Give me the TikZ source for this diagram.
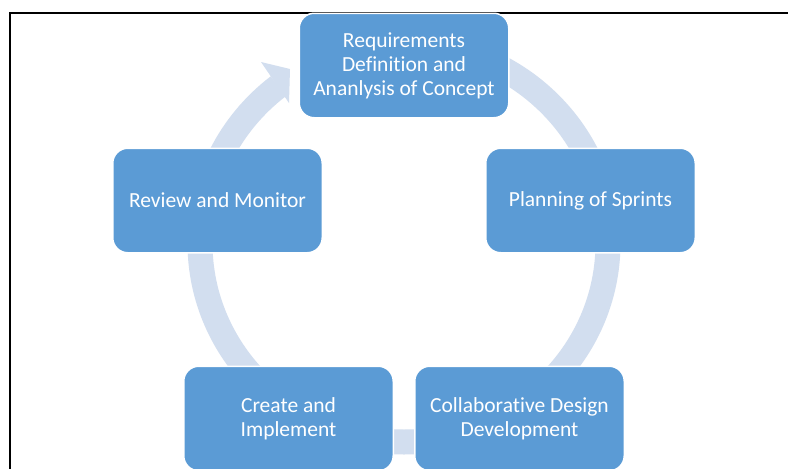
\documentclass[tikz,border=0pt]{standalone}
\usepackage{fontspec}
\setmainfont[Ligatures=NoCommon]{Carlito}
\definecolor{boxblue}{HTML}{5B9BD5}
\definecolor{ringblue}{HTML}{D2DEEF}
\begin{document}
\begin{tikzpicture}[x=1pt,y=-1pt,
  stage/.style={draw=white, line width=1.5pt, fill=boxblue, rounded corners=15pt,
    minimum width=209.5pt, minimum height=104.5pt, inner sep=0pt, align=center,
    text=white, font=\fontsize{21.5}{24}\selectfont},
  ring/.style={draw=ringblue, line width=25pt},
  headfill/.style={fill=ringblue},
  frameline/.style={draw=black, line width=2pt}]
\useasboundingbox (0,0) rectangle (788,469);
\fill[white] (0,0) rectangle (788,469);
\draw[frameline] (9.5,480) -- (9.5,12.5) -- (800,12.5);
% cycle ring behind the boxes
\coordinate (c) at (404,243);
\draw[ring] (404,44) arc[start angle=-90, end angle=232, x radius=204, y radius=199];
\coordinate (tip) at (290,69);
\fill[headfill] (261,62) -- (tip) -- (289,103) -- cycle;
% stages
\node[stage] (req) at (404,65.5) {Requirements\\Definition and\\Ananlysis of Concept};
\node[stage] (review) at (217.5,200.5) {Review and Monitor};
\node[stage] (plan) at (590.5,200.5) {Planning of Sprints};
\node[stage] (create) at (288.5,418.5) {Create and\\Implement};
\node[stage] (collab) at (519.5,418.5) {Collaborative Design\\Development};
\end{tikzpicture}
\end{document}
